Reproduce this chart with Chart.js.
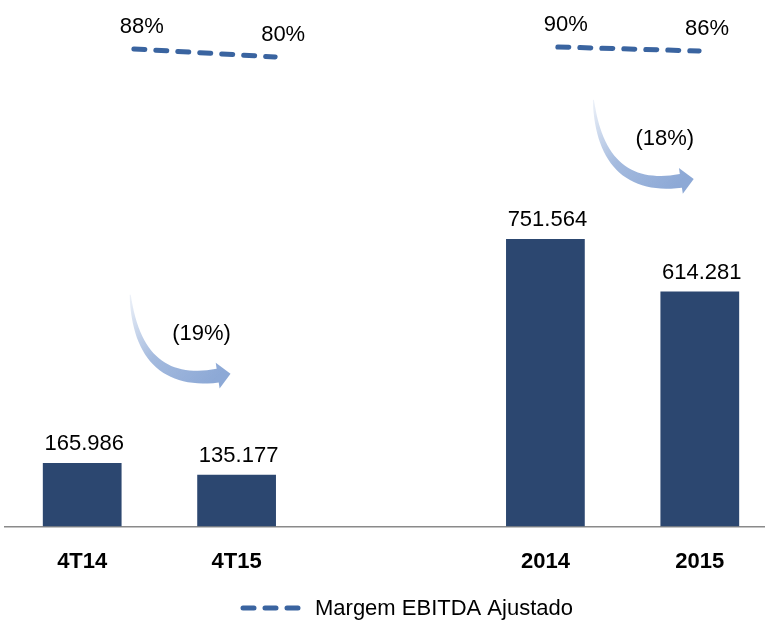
<!DOCTYPE html>
<html>
<head>
<meta charset="utf-8">
<script src="https://cdn.jsdelivr.net/npm/chart.js@4/dist/chart.umd.min.js"></script>
<style>
  html, body { margin: 0; padding: 0; background: #fff; overflow: hidden; }
  #wrap { width: 790px; height: 621px; }
</style>
</head>
<body>
<div id="wrap"><canvas id="grafico" width="790" height="621"></canvas></div>
<script>
// dados
const periodos = ['4T14', '4T15', '', '2014', '2015'];
const ebitdaAjustado = [165.986, 135.177, null, 751.564, 614.281];
const ebitdaTexto = ['165.986', '135.177', '', '751.564', '614.281'];
const margemEbitda = [88, 80, null, 90, 86];
const margemTexto = ['88%', '80%', '', '90%', '86%'];
// variações: de -> para, texto, altura inicial / final da seta (em unidades do eixo y)
const variacaoDe = [0, 3];
const variacaoPara = [1, 4];
const variacaoTexto = ['(19%)', '(18%)'];
const variacaoTopo = [606, 1115];
const variacaoBase = [410, 919];

const FONTE = '"Liberation Sans", Arial, sans-serif';
const COR_BARRA = '#2C4770';
const COR_LINHA = '#3A64A0';

function desenhaSeta(ctx, x0, y0, x1, y1) {
  const w = x1 - x0, h = y1 - y0;
  const p0 = [x0, y0];
  const p1 = [x0 + 0.08 * w, y0 + 1.24 * h];
  const p2 = [x0 + 0.88 * w, y0 + 1.08 * h];
  const n = 30;
  const esq = [], dir = [];
  for (let i = 0; i <= n; i++) {
    const t = i / n;
    const x = (1 - t) * (1 - t) * p0[0] + 2 * (1 - t) * t * p1[0] + t * t * p2[0];
    const y = (1 - t) * (1 - t) * p0[1] + 2 * (1 - t) * t * p1[1] + t * t * p2[1];
    let dx = 2 * (1 - t) * (p1[0] - p0[0]) + 2 * t * (p2[0] - p1[0]);
    let dy = 2 * (1 - t) * (p1[1] - p0[1]) + 2 * t * (p2[1] - p1[1]);
    const l = Math.hypot(dx, dy); dx /= l; dy /= l;
    const hw = 0.5 + 6.5 * Math.pow(t, 0.8);
    esq.push([x - dy * hw, y + dx * hw]);
    dir.push([x + dy * hw, y - dx * hw]);
  }
  let dx = p2[0] - p1[0], dy = p2[1] - p1[1];
  const l = Math.hypot(dx, dy); dx /= l; dy /= l;
  const g = ctx.createLinearGradient(x0, y0, p2[0], p2[1]);
  g.addColorStop(0, 'rgba(141,169,214,0.15)');
  g.addColorStop(0.5, 'rgba(141,169,214,0.8)');
  g.addColorStop(1, 'rgba(141,169,214,1)');
  ctx.save();
  ctx.fillStyle = g;
  ctx.beginPath();
  ctx.moveTo(esq[0][0], esq[0][1]);
  esq.forEach(p => ctx.lineTo(p[0], p[1]));
  ctx.lineTo(p2[0] - dy * 13, p2[1] + dx * 13);
  ctx.lineTo(p2[0] + dx * 13, p2[1] + dy * 13);
  ctx.lineTo(p2[0] + dy * 13, p2[1] - dx * 13);
  for (let i = dir.length - 1; i >= 0; i--) ctx.lineTo(dir[i][0], dir[i][1]);
  ctx.closePath();
  ctx.fill();
  ctx.restore();
}

const rotulos = {
  id: 'rotulos',
  afterDatasetsDraw(chart) {
    const ctx = chart.ctx;
    ctx.save();
    ctx.fillStyle = '#000';
    ctx.font = '22px ' + FONTE;
    ctx.textAlign = 'center';
    ctx.textBaseline = 'middle';
    // valores nas barras
    chart.getDatasetMeta(0).data.forEach((bar, i) => {
      if (ebitdaAjustado[i] == null) return;
      ctx.fillText(ebitdaTexto[i], bar.x + 2, bar.y - 19);
    });
    // margens
    chart.getDatasetMeta(1).data.forEach((pt, i) => {
      if (margemEbitda[i] == null) return;
      ctx.fillText(margemTexto[i], pt.x + 8, pt.y - 22);
    });
    // setas de variação
    const xs = chart.scales.x, ys = chart.scales.y;
    variacaoTexto.forEach((txt, k) => {
      const x0 = xs.getPixelForValue(variacaoDe[k]) + 48;
      const x1 = xs.getPixelForValue(variacaoPara[k]) - 7;
      const y0 = ys.getPixelForValue(variacaoTopo[k]);
      const y1 = ys.getPixelForValue(variacaoBase[k]);
      desenhaSeta(ctx, x0, y0, x1, y1);
      ctx.fillStyle = '#000';
      ctx.fillText(txt, x1 - 28, (y0 + y1) / 2 + 2);
    });
    // legenda
    ctx.strokeStyle = COR_LINHA;
    ctx.lineWidth = 5;
    ctx.lineCap = 'round';
    ctx.setLineDash([11, 11]);
    ctx.beginPath();
    ctx.moveTo(243, 608);
    ctx.lineTo(298, 608);
    ctx.stroke();
    ctx.setLineDash([]);
    ctx.textAlign = 'left';
    ctx.font = '22px ' + FONTE;
    ctx.fillText('Margem EBITDA Ajustado', 315, 609);
    ctx.restore();
  }
};

new Chart(document.getElementById('grafico'), {
  type: 'bar',
  data: {
    labels: periodos,
    datasets: [
      {
        type: 'bar',
        label: 'EBITDA Ajustado',
        data: ebitdaAjustado,
        backgroundColor: COR_BARRA,
        grouped: false,
        barPercentage: 0.51,
        categoryPercentage: 1,
        xAxisID: 'x',
        yAxisID: 'y'
      },
      {
        type: 'line',
        label: 'Margem EBITDA Ajustado',
        data: margemEbitda.map((v, i) => ({ x: i, y: v })),
        borderColor: COR_LINHA,
        borderWidth: 5,
        borderDash: [11, 11],
        borderCapStyle: 'round',
        pointRadius: 0,
        spanGaps: false,
        clip: false,
        xAxisID: 'x2',
        yAxisID: 'y2'
      }
    ]
  },
  options: {
    responsive: false,
    animation: false,
    layout: { padding: { left: 5, right: 13, top: 0, bottom: 24 } },
    plugins: { legend: { display: false }, tooltip: { enabled: false } },
    scales: {
      x: {
        type: 'category',
        grid: { display: false, drawTicks: false },
        border: { display: true, color: '#8a8a8a', width: 1.5 },
        ticks: { color: '#000', font: { family: FONTE, size: 22, weight: 'bold' }, padding: 22, maxRotation: 0, autoSkip: false }
      },
      x2: { type: 'linear', display: false, offset: false, min: -0.9117, max: 4.551 },
      y: { display: false, min: 0, max: 1376 },
      y2: { display: false, min: -390, max: 137 }
    }
  },
  plugins: [rotulos]
});
</script>
</body>
</html>
